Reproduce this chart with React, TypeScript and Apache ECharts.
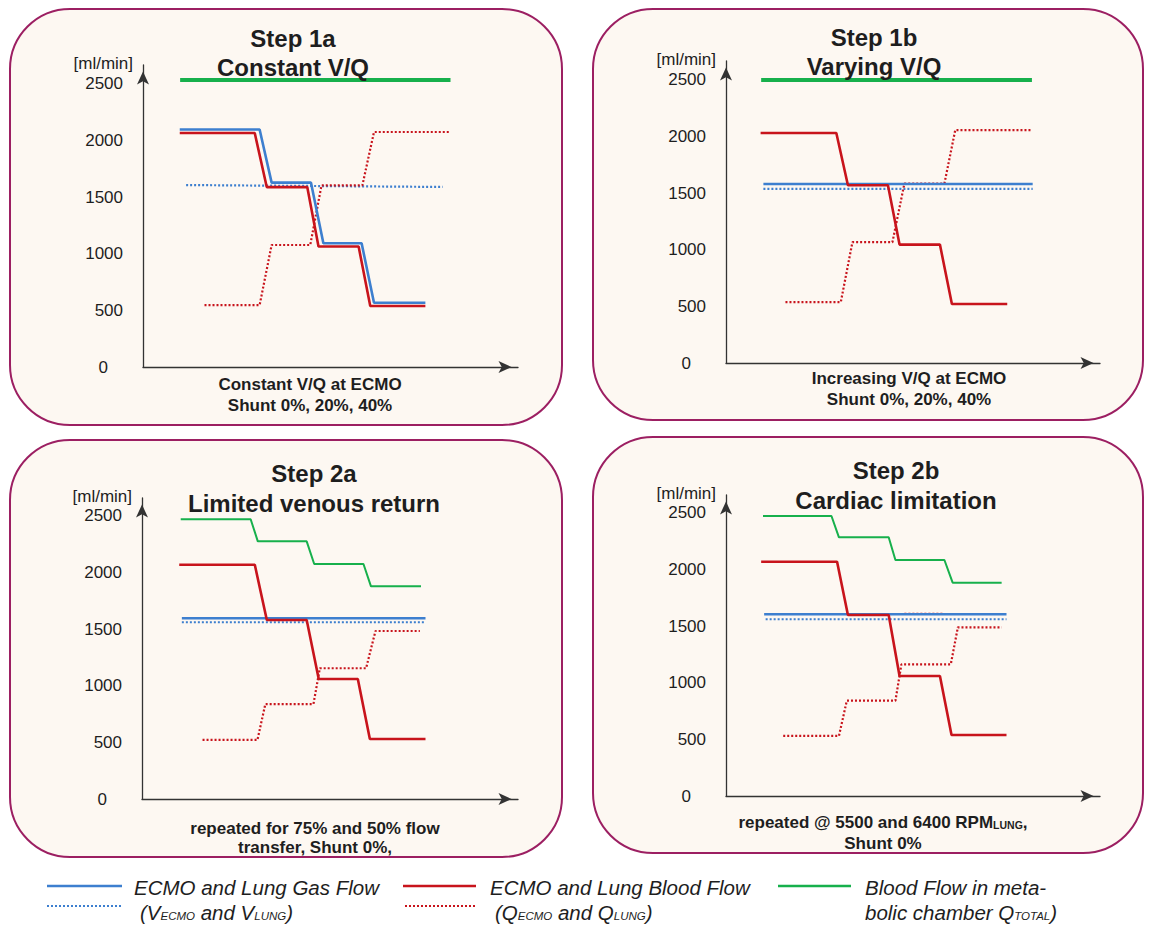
import React, { useEffect, useRef } from 'react';
import * as echarts from 'echarts';

const W = 1149;
const H = 925;
const FONT = '"Liberation Sans", Arial, Helvetica, sans-serif';
const BLUE = '#3d7fcf';
const RED = '#c8141c';
const GREEN = '#17b04c';
const INK = '#1e1e1e';
const AXIS = '#333333';

// ---------- text ----------
const yTicks = [0, 500, 1000, 1500, 2000, 2500];
const yUnit = '[ml/min]';
const titles = [
  ['Step 1a', 'Constant V/Q'],
  ['Step 1b', 'Varying V/Q'],
  ['Step 2a', 'Limited venous return'],
  ['Step 2b', 'Cardiac limitation'],
];
const captions = [
  ['Constant V/Q at ECMO', 'Shunt 0%, 20%, 40%'],
  ['Increasing V/Q at ECMO', 'Shunt 0%, 20%, 40%'],
  ['repeated for 75% and 50% flow', 'transfer, Shunt 0%,'],
  ['repeated @ 5500 and 6400 RPM{s|LUNG},', 'Shunt 0%'],
];

// ---------- data: [step position (0-100 along x axis), flow ml/min] ----------
// Step 1a
const s1aTotal = [[9.9, 2533], [82, 2533]];
const s1aGas = [[9.8, 2096], [31.1, 2096], [34.3, 1627], [44.8, 1627], [48.1, 1092], [58.3, 1092], [61.6, 567], [75.3, 567]];
const s1aGasLung = [[11.5, 1606], [79.9, 1589]];
const s1aBlood = [[9.8, 2065], [29.8, 2065], [33.0, 1588], [43.8, 1588], [46.8, 1063], [57.5, 1063], [60.6, 538], [75.3, 538]];
const s1aBloodLung = [[16.4, 546], [31.1, 546], [34.3, 1077], [44.6, 1077], [47.6, 1603], [58.5, 1603], [61.6, 2074], [82, 2074]];
// Step 1b
const s1bTotal = [[9.4, 2498], [81.8, 2498]];
const s1bGas = [[10.0, 1580], [82.0, 1580]];
const s1bGasLung = [[10.0, 1536], [82.0, 1536]];
const s1bBlood = [[9.25, 2030], [29.5, 2030], [32.6, 1569], [43.3, 1569], [46.4, 1045], [57.2, 1045], [60.4, 521], [75.2, 521]];
const s1bBloodLung = [[15.9, 538], [30.7, 538], [33.8, 1066], [44.5, 1066], [47.7, 1584], [58.4, 1584], [61.3, 2056], [81.8, 2056]];
// Step 2a
const s2aTotal = [[10.3, 2469], [28.9, 2469], [30.8, 2274], [43.8, 2274], [45.8, 2074], [58.9, 2074], [60.9, 1877], [74.2, 1877]];
const s2aGas = [[10.6, 1595], [75.4, 1595]];
const s2aGasLung = [[10.6, 1560], [75.4, 1560]];
const s2aBlood = [[9.9, 2068], [30.0, 2068], [33.2, 1580], [43.8, 1580], [47.0, 1059], [57.4, 1059], [60.6, 530], [75.4, 530]];
const s2aBloodLung = [[16.1, 521], [30.7, 521], [32.8, 838], [45.6, 838], [47.3, 1154], [59.6, 1154], [62.1, 1483], [73.9, 1483]];
// Step 2b
const s2bTotal = [[9.9, 2471], [28.2, 2471], [30.2, 2283], [43.5, 2283], [45.3, 2083], [58.4, 2083], [60.6, 1883], [73.7, 1883]];
const s2bGas = [[10.2, 1604], [75.0, 1604]];
const s2bGasLung = [[10.6, 1560], [75.0, 1560]];
const s2bBlood = [[9.4, 2068], [29.7, 2068], [32.6, 1598], [43.5, 1598], [46.4, 1059], [57.2, 1059], [60.3, 538], [75.0, 538]];
const s2bBloodLung = [[15.3, 530], [30.2, 530], [32.3, 841], [45.3, 841], [46.9, 1162], [60.1, 1162], [62.0, 1489], [73.7, 1489]];
const s2bBloodLungGhost = [[47.7, 1612], [58.1, 1612]];

const panelData = [
  { total: s1aTotal, gas: s1aGas, gasLung: s1aGasLung, blood: s1aBlood, bloodLung: s1aBloodLung, ghost: null },
  { total: s1bTotal, gas: s1bGas, gasLung: s1bGasLung, blood: s1bBlood, bloodLung: s1bBloodLung, ghost: null },
  { total: s2aTotal, gas: s2aGas, gasLung: s2aGasLung, blood: s2aBlood, bloodLung: s2aBloodLung, ghost: null },
  { total: s2bTotal, gas: s2bGas, gasLung: s2bGasLung, blood: s2bBlood, bloodLung: s2bBloodLung, ghost: s2bBloodLungGhost },
];

// ---------- layout (pixels) ----------
const PX_PER_ML = 0.1133;
const layout = [
  { box: [10, 9, 552, 416], ax: 143, tip: 518, top: 65, base: 367, tx: 293, t1: 38, t2: 67, cx: 310, c1: 384, c2: 405, greenW: 4 },
  { box: [593, 9, 550, 411], ax: 726, tip: 1100, top: 61, base: 363, tx: 874, t1: 37, t2: 66, cx: 909, c1: 378, c2: 399, greenW: 4 },
  { box: [10, 440, 552, 417], ax: 142, tip: 518, top: 498, base: 799, tx: 314, t1: 473, t2: 503, cx: 315, c1: 828, c2: 847, greenW: 2 },
  { box: [593, 437, 550, 416], ax: 726, tip: 1100, top: 495, base: 796, tx: 896, t1: 470, t2: 500, cx: 883, c1: 822, c2: 843, greenW: 2 },
];

function buildOption() {
  const grid: any[] = [];
  const xAxis: any[] = [];
  const yAxis: any[] = [];
  const series: any[] = [];
  const graphic: any[] = [];

  layout.forEach((L, i) => {
    grid.push({ left: L.ax, top: L.top, width: L.tip - L.ax, height: L.base - L.top, containLabel: false });
    const arrowLine = {
      show: true,
      symbol: ['none', 'arrow'],
      symbolSize: [9, 13],
      symbolOffset: [0, -6.5],
      lineStyle: { color: AXIS, width: 1.3 },
    };
    xAxis.push({
      gridIndex: i, type: 'value', min: 0, max: 100,
      axisLine: arrowLine, axisTick: { show: false }, axisLabel: { show: false }, splitLine: { show: false },
    });
    yAxis.push({
      gridIndex: i, type: 'value', min: 0, max: (L.base - L.top) / PX_PER_ML,
      axisLine: arrowLine, axisTick: { show: false }, splitLine: { show: false },
      axisLabel: {
        customValues: yTicks,
        margin: 20,
        fontSize: 17,
        color: INK,
        fontFamily: FONT,
        formatter: (v: number) => (v === 0 ? '{z|0}' : String(v)),
        rich: { z: { fontSize: 17, color: INK, fontFamily: FONT, padding: [0, 15, 0, 0] } },
      },
    });

    const d = panelData[i];
    const mk = (name: string, data: any, color: string, width: number, dashed: boolean, opacity = 1) => ({
      name, type: 'line', xAxisIndex: i, yAxisIndex: i, data, symbol: 'none', silent: true,
      lineStyle: { color, width, type: dashed ? [2, 2] : 'solid', opacity },
    });
    series.push(mk('Blood Flow in metabolic chamber Q_TOTAL', d.total, GREEN, L.greenW, false));
    series.push(mk('V_LUNG', d.gasLung, BLUE, 2.2, true));
    series.push(mk('Q_LUNG', d.bloodLung, RED, 2.2, true));
    if (d.ghost) series.push(mk('Q_LUNG (faint)', d.ghost, '#e58a8a', 2, true, 0.7));
    series.push(mk('V_ECMO', d.gas, BLUE, 2.6, false));
    series.push(mk('Q_ECMO', d.blood, RED, 2.6, false));

    const [bx, by, bw, bh] = L.box;
    graphic.push({
      type: 'rect', z: -10, silent: true,
      shape: { x: bx, y: by, width: bw, height: bh, r: 60 },
      style: { fill: '#fdf8f2', stroke: '#9c1f62', lineWidth: 2 },
    });
    // y-axis unit label, just above the top tick label
    graphic.push({
      type: 'text', z: 20, silent: true, x: L.ax - 10, y: L.top - 2,
      style: { text: yUnit, fill: INK, fontSize: 17, fontFamily: FONT, align: 'right', verticalAlign: 'middle' },
    });
    const tstyle = (text: string, y: number, size: number, x: number) => ({
      type: 'text', z: 20, silent: true, x, y,
      style: {
        text, fill: INK, fontSize: size, fontWeight: 'bold', fontFamily: FONT, align: 'center', verticalAlign: 'middle',
        rich: { s: { fontSize: 10.5, fontWeight: 'bold', fontFamily: FONT, fill: INK, padding: [6, 0, 0, 0] } },
      },
    });
    graphic.push(tstyle(titles[i][0], L.t1, 24, L.tx));
    graphic.push(tstyle(titles[i][1], L.t2, 24, L.tx));
    graphic.push(tstyle(captions[i][0], L.c1, 17, L.cx));
    graphic.push(tstyle(captions[i][1], L.c2, 17, L.cx));
  });

  // legend
  const legendLine = (x1: number, x2: number, y: number, color: string, dashed: boolean) => ({
    type: 'line', z: 20, silent: true,
    shape: { x1, y1: y, x2, y2: y },
    style: { stroke: color, lineWidth: dashed ? 2 : 2.6, lineDash: dashed ? [2, 2] : null },
  });
  const legendText = (text: string, x: number, y: number) => ({
    type: 'text', z: 20, silent: true, x, y,
    style: {
      text, fill: INK, fontSize: 20.5, fontStyle: 'italic', fontFamily: FONT, align: 'left', verticalAlign: 'middle',
      rich: {
        s: { fontSize: 11.5, fontStyle: 'italic', fontFamily: FONT, fill: INK, padding: [8, 0, 0, 0] },
      },
    },
  });
  graphic.push(legendLine(47, 122, 886, BLUE, false));
  graphic.push(legendLine(47, 121, 906, BLUE, true));
  graphic.push(legendText('ECMO and Lung Gas Flow', 134, 887));
  graphic.push(legendText('(V{s|ECMO} and V{s|LUNG})', 140, 912));
  graphic.push(legendLine(403, 476, 886, RED, false));
  graphic.push(legendLine(405, 476, 906, RED, true));
  graphic.push(legendText('ECMO and Lung Blood Flow', 490, 887));
  graphic.push(legendText('(Q{s|ECMO} and Q{s|LUNG})', 495, 912));
  graphic.push(legendLine(778, 851, 886, GREEN, false));
  graphic.push(legendText('Blood Flow in meta-', 865, 887));
  graphic.push(legendText('bolic chamber Q{s|TOTAL})', 865, 912));

  return {
    animation: false,
    backgroundColor: '#ffffff',
    grid, xAxis, yAxis, series, graphic,
  };
}

export default function App() {
  const ref = useRef<HTMLDivElement>(null);
  useEffect(() => {
    if (!ref.current) return;
    const chart = echarts.init(ref.current, null, { renderer: 'svg' });
    chart.setOption(buildOption() as any);
    return () => chart.dispose();
  }, []);
  return <div ref={ref} style={{ position: 'absolute', left: 0, top: 0, width: W, height: H }} />;
}
